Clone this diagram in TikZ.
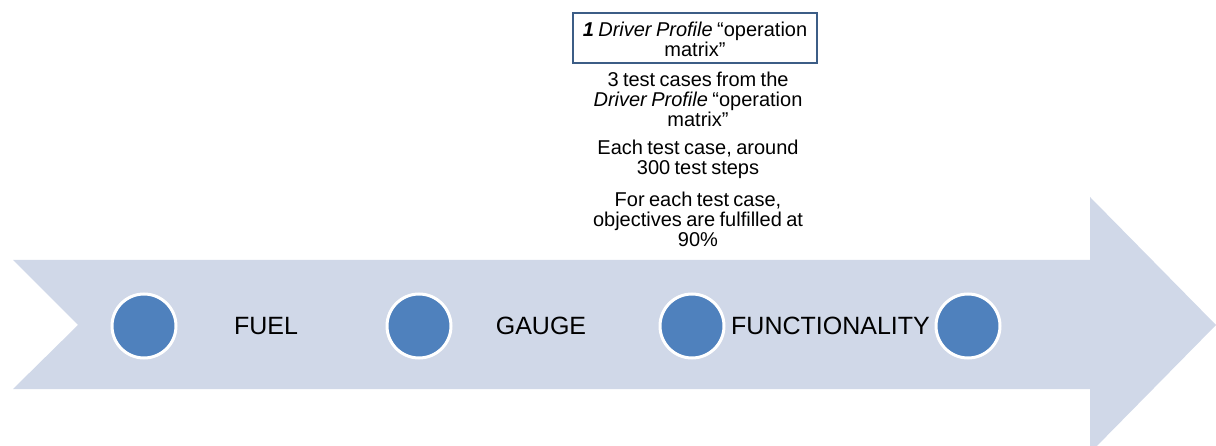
\documentclass[tikz,border=0pt]{standalone}
\usepackage{fontspec}
\setmainfont{Liberation Sans}
\definecolor{arrowfill}{HTML}{D0D8E8}
\definecolor{dotfill}{HTML}{4F81BD}
\definecolor{boxline}{HTML}{3C5D86}
\newcommand\mynotefont{\fontsize{20}{20}\selectfont\spaceskip=0.22em plus 0.1em minus 0.05em\relax}
\begin{document}
\begin{tikzpicture}[x=1pt,y=-1pt,
  dot/.style={circle,fill=dotfill,draw=white,line width=3pt,minimum size=64pt,inner sep=0pt},
  lbl/.style={font=\fontsize{25}{28}\selectfont,inner sep=0pt},
  note/.style={font=\mynotefont,align=center,inner sep=0pt}]
\useasboundingbox (0,0) rectangle (1216,446);
\fill[arrowfill] (13,260) -- (1090,260) -- (1090,197) -- (1216,325) -- (1090,453)
  -- (1090,389) -- (13,389) -- (78,325) -- cycle;
\node[dot] (c1) at (144,326) {};
\node[dot] (c2) at (419,326) {};
\node[dot] (c3) at (692,326) {};
\node[dot] (c4) at (968,326) {};
\node[lbl] (fuel) at (266,326) {FUEL};
\node[lbl] (gauge) at (541,326) {GAUGE};
\node[lbl,anchor=west] (func) at (731,326) {FUNCTIONALITY};
\draw[boxline,line width=2pt] (573,13) rectangle (817,63);
\node[note] (n0) at (695,39) {\textbf{\textit{1}} \textit{Driver Profile} “operation\\matrix”};
\node[note] (n1) at (698,99) {3 test cases from the\\\textit{Driver Profile} “operation\\matrix”};
\node[note] (n2) at (698,159) {Each test case, around\\300 test steps};
\node[note] (n3) at (698,219) {For each test case,\\objectives are fulfilled at\\90\%};
\end{tikzpicture}
\end{document}
